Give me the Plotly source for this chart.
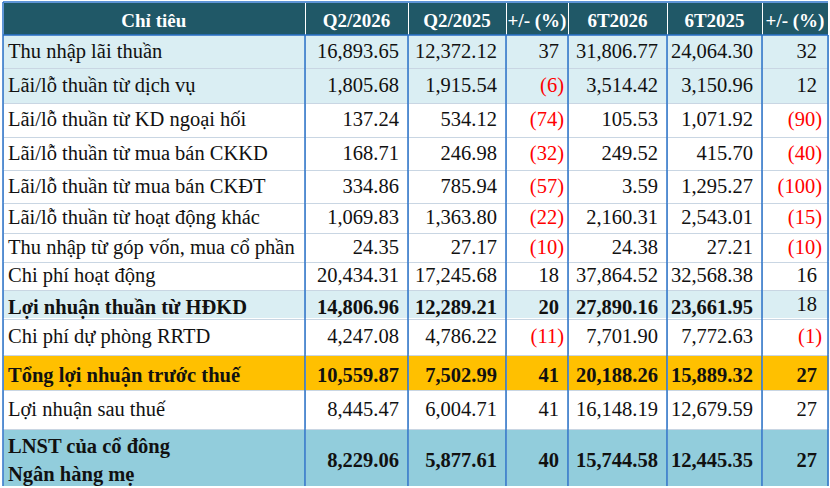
import plotly.graph_objects as go

# ---------------- data ----------------
header = ["Chỉ tiêu", "Q2/2026", "Q2/2025", "+/- (%)", "6T2026", "6T2025", "+/- (%)"]
items = [
    "Thu nhập lãi thuần",
    "Lãi/lỗ thuần từ dịch vụ",
    "Lãi/lỗ thuần từ KD ngoại hối",
    "Lãi/lỗ thuần từ mua bán CKKD",
    "Lãi/lỗ thuần từ mua bán CKĐT",
    "Lãi/lỗ thuần từ hoạt động khác",
    "Thu nhập từ góp vốn, mua cổ phần",
    "Chi phí hoạt động",
    "Lợi nhuận thuần từ HĐKD",
    "Chi phí dự phòng RRTD",
    "Tổng lợi nhuận trước thuế",
    "Lợi nhuận sau thuế",
    "LNST của cổ đông<br>Ngân hàng mẹ",
]
q2_2026 = [16893.65, 1805.68, 137.24, 168.71, 334.86, 1069.83, 24.35,
           20434.31, 14806.96, 4247.08, 10559.87, 8445.47, 8229.06]
q2_2025 = [12372.12, 1915.54, 534.12, 246.98, 785.94, 1363.80, 27.17,
           17245.68, 12289.21, 4786.22, 7502.99, 6004.71, 5877.61]
chg_q = [37, -6, -74, -32, -57, -22, -10, 18, 20, -11, 41, 41, 40]
h1_2026 = [31806.77, 3514.42, 105.53, 249.52, 3.59, 2160.31, 24.38,
           37864.52, 27890.16, 7701.90, 20188.26, 16148.19, 15744.58]
h1_2025 = [24064.30, 3150.96, 1071.92, 415.70, 1295.27, 2543.01, 27.21,
           32568.38, 23661.95, 7772.63, 15889.32, 12679.59, 12445.35]
chg_h = [32, 12, -90, -40, -100, -15, -10, 16, 18, -1, 27, 27, 27]

# ---------------- styles ----------------
FONT = "Liberation Serif"
BODY_SIZE = 20.5
HEAD_SIZE = 19
HEAD_FILL = "#205867"
LIGHT, ORANGE, TEAL, WHITE = "#DAEEF3", "#FFC000", "#92CDDC", "#FFFFFF"
row_fill = [LIGHT, LIGHT, WHITE, WHITE, WHITE, WHITE, WHITE, WHITE,
            LIGHT, WHITE, ORANGE, WHITE, TEAL]
row_bold = [False] * 8 + [True, False, True, False, True]
last_pct_bold = [False] * 10 + [True, False, True]
TXT, NEG = "#111111", "#FF0000"
GRID_BLUE, ROW_LINE = "#2A72C8", "#C9D6E3"
CLEAR = "rgba(0,0,0,0)"

# ---------------- geometry (pixels) ----------------
W, H = 830, 488
X0 = 3
col_px = [302, 103, 98, 62, 99, 95, 66]
HEAD_TOP, HEAD_H = 2, 33
row_h = [33, 35, 34, 33, 33, 30, 29, 28, 29, 36, 35, 39, 57]
SHIFT = 4          # body text columns shifted right
K = 17             # text-trace top -> visual centre of text
TH = 36            # text-trace height
LINE_GAP = 28      # gap between two text lines in one cell

X1 = X0 + sum(col_px)
txt_w = [X0 + col_px[0] + SHIFT] + col_px[1:6]
txt_w.append(W - sum(txt_w))


def make_table(x0, x1, y0, y1, widths, values, fills, colors, aligns,
               line_color, size):
    y0 = max(0, y0)
    y1 = min(H, y1)
    return go.Table(
        domain=dict(x=[x0 / W, x1 / W], y=[1 - y1 / H, 1 - y0 / H]),
        columnwidth=widths,
        header=dict(values=values, fill=dict(color=fills),
                    font=dict(family=FONT, size=size, color=colors),
                    align=aligns, height=y1 - y0,
                    line=dict(color=line_color, width=1)),
        cells=dict(values=[[] for _ in values], height=1,
                   fill=dict(color=CLEAR), line=dict(color=CLEAR, width=0)),
    )


def b(s, on):
    return f"<b>{s}</b>" if on else s


def fmt_num(v, bold):
    return b(f"{v:,.2f}\u00a0", bold)


def fmt_pct(v, bold):
    s = f"({abs(v)})" if v < 0 else f"{v}\u00a0"
    return b(s, bold)


traces = []
ncol = len(header)

# header (non-breaking spaces keep each title on one line)
traces.append(make_table(
    X0, X1, HEAD_TOP, HEAD_TOP + HEAD_H, col_px,
    [f"<b>{h.replace(' ', chr(160))}</b>" for h in header],
    [HEAD_FILL] * ncol, [WHITE] * ncol,
    ["center"] * ncol, WHITE, HEAD_SIZE))

# body
aligns = ["left"] + ["right"] * (ncol - 1)
y = HEAD_TOP + HEAD_H
for r in range(len(items)):
    h = row_h[r]
    bold = row_bold[r]
    traces.append(make_table(
        X0, X1, y, y + h, col_px, [""] * ncol, [row_fill[r]] * ncol,
        [TXT] * ncol, aligns, ROW_LINE, BODY_SIZE))
    cells = [
        items[r],
        fmt_num(q2_2026[r], bold), fmt_num(q2_2025[r], bold),
        fmt_pct(chg_q[r], bold),
        fmt_num(h1_2026[r], bold), fmt_num(h1_2025[r], bold),
        fmt_pct(chg_h[r], last_pct_bold[r]),
    ]
    colors = [TXT, TXT, TXT, NEG if chg_q[r] < 0 else TXT, TXT, TXT,
              NEG if chg_h[r] < 0 else TXT]
    centre = y + h / 2
    split = [c.split("<br>") for c in cells]
    counts = sorted(set(len(s) for s in split))
    for n in counts:
        for j in range(n):
            vals = []
            for c, s in enumerate(split):
                if len(s) == n:
                    line = s[j]
                    vals.append(b(line, bold) if c == 0 else line)
                else:
                    vals.append("")
            lc = centre + (j - (n - 1) / 2) * LINE_GAP
            top = lc - K
            traces.append(make_table(
                0, W, top, top + TH, txt_w, vals, [CLEAR] * ncol, colors,
                aligns, CLEAR, BODY_SIZE))
    y += h
BOTTOM = y

fig = go.Figure(traces)

bounds = [X0]
for w_ in col_px:
    bounds.append(bounds[-1] + w_)


def hline(x0, x1, yy):
    return dict(type="line", xref="paper", yref="paper",
                x0=x0 / W, x1=x1 / W, y0=1 - yy / H, y1=1 - yy / H,
                line=dict(color=GRID_BLUE, width=1.5), layer="above")


def vline(xx, y0, y1):
    return dict(type="line", xref="paper", yref="paper",
                x0=xx / W, x1=xx / W, y0=1 - y0 / H, y1=1 - y1 / H,
                line=dict(color=GRID_BLUE, width=1.5), layer="above")


shapes = [vline(xb, HEAD_TOP + HEAD_H, BOTTOM) for xb in bounds]
shapes.append(hline(X0, X1, HEAD_TOP + HEAD_H))
shapes.append(hline(X0, X1, HEAD_TOP))
shapes.append(vline(X0, HEAD_TOP, HEAD_TOP + HEAD_H))

fig.update_layout(
    width=W, height=H,
    margin=dict(l=0, r=0, t=0, b=0),
    paper_bgcolor=WHITE,
    shapes=shapes,
    showlegend=False,
)

fig.write_html("out.html", config={"displayModeBar": False},
               post_script="document.body.style.margin='0';")
